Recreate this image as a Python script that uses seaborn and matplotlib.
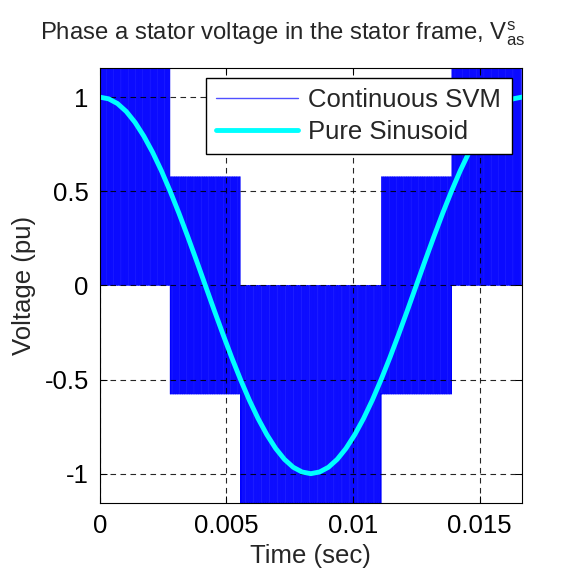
import numpy as np
import pandas as pd
import matplotlib
matplotlib.use("Agg")
import matplotlib.pyplot as plt
import seaborn as sns

# ---------------- data ----------------
# sector boundaries of the SVM phase voltage (s) and the two extreme levels in each sector (pu)
sector_edges = [0.0, 0.00278, 0.00556, 0.01111, 0.01389, 0.016667]
sector_low = [0.0, -0.577, -1.155, -0.577, 0.0]
sector_high = [1.155, 0.577, 0.0, 0.577, 1.155]
switching_period = 7.0e-5  # s

# pure sinusoid read every 7.5 degrees over one 60 Hz period
sine_values = [1.000, 0.991, 0.966, 0.924, 0.866, 0.793, 0.707, 0.609, 0.500,
               0.383, 0.259, 0.131, 0.000, -0.131, -0.259, -0.383, -0.500,
               -0.609, -0.707, -0.793, -0.866, -0.924, -0.966, -0.991, -1.000,
               -0.991, -0.966, -0.924, -0.866, -0.793, -0.707, -0.609, -0.500,
               -0.383, -0.259, -0.131, 0.000, 0.131, 0.259, 0.383, 0.500,
               0.609, 0.707, 0.793, 0.866, 0.924, 0.966, 0.991, 1.000]
period = 1 / 60

x_ticks = [0, 0.005, 0.01, 0.015]
x_tick_labels = ["0", "0.005", "0.01", "0.015"]
y_ticks = [-1, -0.5, 0, 0.5, 1]
y_tick_labels = ["-1", "-0.5", "0", "0.5", "1"]

# -------------- build tables --------------
svm_t, svm_v = [], []
for k in range(len(sector_low)):
    t0, t1 = sector_edges[k], sector_edges[k + 1]
    lo, hi = sector_low[k], sector_high[k]
    n = max(1, int(round((t1 - t0) / switching_period)))
    ts = (t1 - t0) / n
    for j in range(n):
        a = t0 + j * ts
        for tt, vv in [(a, lo), (a + ts / 4, lo), (a + ts / 4, hi),
                       (a + 3 * ts / 4, hi), (a + 3 * ts / 4, lo), (a + ts, lo)]:
            svm_t.append(tt)
            svm_v.append(vv)
svm_df = pd.DataFrame({"t": svm_t, "v": svm_v})
sin_df = pd.DataFrame({"t": np.linspace(0, period, len(sine_values)), "v": sine_values})

# -------------- style --------------
sns.set_style("ticks")
plt.rcParams["font.family"] = ["Liberation Sans", "DejaVu Sans"]
plt.rcParams["mathtext.fontset"] = "custom"
plt.rcParams["mathtext.rm"] = "Liberation Sans"
plt.rcParams["mathtext.it"] = "Liberation Sans:italic"
plt.rcParams["axes.unicode_minus"] = False

fig = plt.figure(figsize=(5.74, 5.76), dpi=100)
ax = fig.add_axes([0.174, 0.127, 0.735, 0.755])

sns.lineplot(data=svm_df, x="t", y="v", estimator=None, sort=False,
             color="#0000ff", lw=0.6, ax=ax, label="Continuous SVM", zorder=2)
sns.lineplot(data=sin_df, x="t", y="v", estimator=None, sort=False,
             color="#00ffff", lw=3.5, ax=ax, label="Pure Sinusoid", zorder=3)

ax.set_xlim(0, period)
ax.set_ylim(-1.155, 1.155)
ax.set_xticks(x_ticks, x_tick_labels)
ax.set_yticks(y_ticks, y_tick_labels)
ax.tick_params(direction="in", length=5, width=0.75, top=True, right=True,
               labelsize=18.5, colors="black", pad=8)
ax.grid(True, color="black", linestyle=(0, (5, 4)), lw=0.8, alpha=0.85)
ax.set_axisbelow(False)
for s in ax.spines.values():
    s.set_color("black")
    s.set_linewidth(0.8)
    s.set_zorder(4)

ax.set_xlabel("Time (sec)", fontsize=18.5, labelpad=4)
ax.set_ylabel("Voltage (pu)", fontsize=18.5, labelpad=6)

leg = ax.legend(loc="upper right", bbox_to_anchor=(0.976, 0.977), fontsize=18.5,
                frameon=True, fancybox=False, framealpha=1, edgecolor="black",
                handlelength=3.2, handletextpad=0.4, borderpad=0.4, labelspacing=0.3,
                borderaxespad=0)
leg.get_frame().set_linewidth(1.0)
leg.set_zorder(5)
leg_lines = leg.get_lines()
leg_lines[0].set_color("#5050ff")
leg_lines[0].set_linewidth(1.0)
leg_lines[1].set_linewidth(3.5)

fig.text(0.493, 1 - 40 / 576,
         r"Phase a stator voltage in the stator frame, $\mathrm{V}_{\mathrm{as}}^{\mathrm{s}}$",
         ha="center", va="baseline", fontsize=17.2)

fig.savefig("out.png", dpi=100)
